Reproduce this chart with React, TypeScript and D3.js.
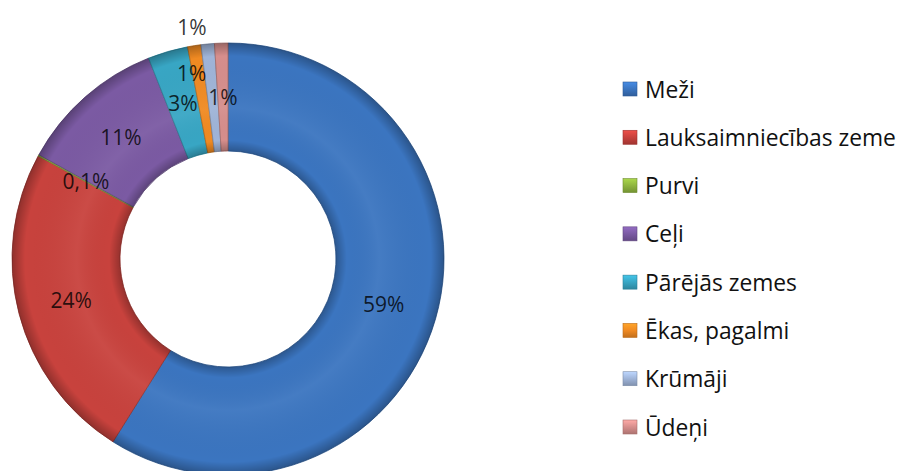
import React, { useEffect, useRef } from "react";
import * as d3 from "d3";

// land use shares (percent)
const categories = [
  "Meži",
  "Lauksaimniecības zeme",
  "Purvi",
  "Ceļi",
  "Pārējās zemes",
  "Ēkas, pagalmi",
  "Krūmāji",
  "Ūdeņi",
];
const shares = [59, 24, 0.1, 11, 3, 1, 1, 1];
const shareLabels = ["59%", "24%", "0,1%", "11%", "3%", "1%", "1%", "1%"];
const colors = ["#3b75c0", "#c8423d", "#8fb53f", "#7b5aa3", "#38a6c4", "#f08a22", "#9fb4d8", "#d68e8c"];

const App = () => {
  const ref = useRef<SVGSVGElement>(null);

  useEffect(() => {
    const svg = d3.select(ref.current);
    svg.selectAll("*").remove();

    const width = 900, height = 471;
    const cx = 228, cy = 259;
    const outer = 216, inner = 108;

    svg.attr("width", width).attr("height", height);
    const defs = svg.append("defs");

    // ring shading for the bevel look (coords relative to chart centre)
    const ring = defs.append("radialGradient")
      .attr("id", "ringShade")
      .attr("gradientUnits", "userSpaceOnUse")
      .attr("cx", 0).attr("cy", 0).attr("r", outer);
    ring.append("stop").attr("offset", inner / outer).attr("stop-color", "#000").attr("stop-opacity", 0.25);
    ring.append("stop").attr("offset", inner / outer + 0.05).attr("stop-color", "#000").attr("stop-opacity", 0.0);
    ring.append("stop").attr("offset", 0.7).attr("stop-color", "#fff").attr("stop-opacity", 0.05);
    ring.append("stop").attr("offset", 0.94).attr("stop-color", "#000").attr("stop-opacity", 0.0);
    ring.append("stop").attr("offset", 1).attr("stop-color", "#000").attr("stop-opacity", 0.28);

    colors.forEach((c, i) => {
      const g = defs.append("linearGradient")
        .attr("id", `leg${i}`)
        .attr("x1", 0).attr("y1", 0).attr("x2", 0).attr("y2", 1);
      g.append("stop").attr("offset", 0).attr("stop-color", d3.color(c)!.brighter(0.5).formatHex());
      g.append("stop").attr("offset", 0.5).attr("stop-color", c);
      g.append("stop").attr("offset", 1).attr("stop-color", d3.color(c)!.darker(0.6).formatHex());
    });

    const pie = d3.pie<number>().sort(null).value(d => d);
    const arcs = pie(shares);
    const arc = d3.arc<d3.PieArcDatum<number>>().innerRadius(inner).outerRadius(outer);

    const chart = svg.append("g").attr("transform", `translate(${cx},${cy})`);

    chart.selectAll("path.slice")
      .data(arcs)
      .enter()
      .append("path")
      .attr("class", "slice")
      .attr("d", arc)
      .attr("fill", (d, i) => colors[i])
      .attr("stroke", (d, i) => d3.color(colors[i])!.darker(0.8).formatHex())
      .attr("stroke-width", 0.8);

    chart.append("path")
      .attr("d", d3.arc()({ innerRadius: inner, outerRadius: outer, startAngle: 0, endAngle: 2 * Math.PI })!)
      .attr("fill", "url(#ringShade)")
      .style("pointer-events", "none");

    // labels: centroid, crowded small slices pushed out
    const labelPos = (d: d3.PieArcDatum<number>, i: number) => {
      let r = (inner + outer) / 2;
      let a = (d.startAngle + d.endAngle) / 2;
      if (i === 5) { r = 190; a -= 0.035; }
      if (i === 6) { r = 235; a -= 0.06; }
      return [Math.sin(a) * r, -Math.cos(a) * r];
    };

    chart.selectAll("text.lbl")
      .data(arcs)
      .enter()
      .append("text")
      .attr("class", "lbl")
      .attr("x", (d, i) => labelPos(d, i)[0])
      .attr("y", (d, i) => labelPos(d, i)[1])
      .attr("text-anchor", "middle")
      .attr("dominant-baseline", "central")
      .attr("font-family", "'Open Sans', sans-serif")
      .attr("font-size", 21)
      .attr("fill", "#000")
      .attr("fill-opacity", 0.8)
      .text((d, i) => shareLabels[i]);

    // legend
    const ly = d3.scalePoint<string>().domain(categories).range([89, 427]);
    const legend = svg.append("g");
    const rows = legend.selectAll("g")
      .data(categories)
      .enter()
      .append("g")
      .attr("transform", d => `translate(623,${ly(d)})`);

    rows.append("rect")
      .attr("x", 0).attr("y", -7)
      .attr("width", 14).attr("height", 14)
      .attr("fill", (d, i) => `url(#leg${i})`)
      .attr("stroke", (d, i) => d3.color(colors[i])!.darker(0.7).formatHex())
      .attr("stroke-width", 0.6);

    rows.append("text")
      .attr("x", 22)
      .attr("y", 0)
      .attr("dominant-baseline", "central")
      .attr("font-family", "'Open Sans', sans-serif")
      .attr("font-size", 22.8)
      .attr("fill", "#111")
      .text(d => d);
  }, []);

  return <svg ref={ref} style={{ position: "absolute", left: 0, top: 0 }}></svg>;
};

export default App;
